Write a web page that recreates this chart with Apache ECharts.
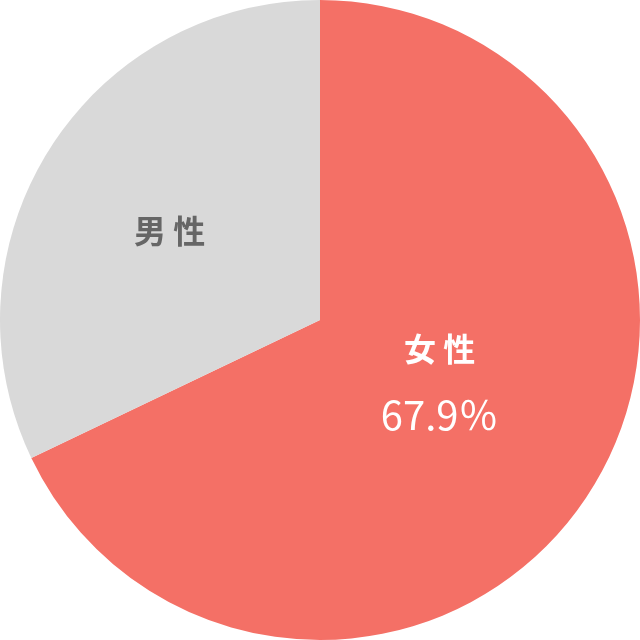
<!DOCTYPE html>
<html><head><meta charset="utf-8">
<script src="https://cdn.jsdelivr.net/npm/echarts@6/dist/echarts.min.js"></script>
<style>html,body{margin:0;padding:0;background:#fff}#c{width:640px;height:640px}</style>
</head><body><div id="c"></div>
<script>
const categories = ['女性', '男性'];
const values = [67.9, 32.1];
const colors = ['#F47066', '#D9D9D9'];

const chart = echarts.init(document.getElementById('c'), null, {renderer: 'canvas'});
const font = '"Noto Sans CJK JP","Noto Sans",sans-serif';
const baseData = categories.map((n, i) => ({name: n, value: values[i], itemStyle: {color: colors[i]}}));

function labelData(showIdx) {
  return categories.map((n, i) => ({
    name: n, value: values[i],
    label: {show: i === showIdx}
  }));
}

chart.setOption({
  animation: false,
  series: [
    {
      type: 'pie', radius: [0, 320], center: [320, 320], startAngle: 90, clockwise: true,
      silent: true, label: {show: false}, labelLine: {show: false},
      itemStyle: {borderWidth: 0},
      data: baseData
    },
    {
      type: 'pie', radius: [0, 263], center: [320, 320], startAngle: 95, clockwise: true,
      silent: true, itemStyle: {color: 'rgba(0,0,0,0)'}, labelLine: {show: false},
      label: {
        position: 'inside',
        formatter: p => '{a|' + p.name.split('').join(' ') + '}\n{b|' + p.value.toFixed(1) + '}{c|％}',
        rich: {
          a: {fontFamily: font, fontSize: 32, fontWeight: 'bold', color: '#fff', lineHeight: 66},
          b: {fontFamily: font, fontSize: 40, fontWeight: 'normal', color: '#fff', lineHeight: 66},
          c: {fontFamily: font, fontSize: 40, fontWeight: 'normal', color: '#fff', lineHeight: 66}
        }
      },
      data: labelData(0)
    },
    {
      type: 'pie', radius: [0, 344], center: [320, 320], startAngle: 91.5, clockwise: true,
      silent: true, itemStyle: {color: 'rgba(0,0,0,0)'}, labelLine: {show: false},
      label: {
        position: 'inside',
        formatter: p => p.name.split('').join(' '),
        fontFamily: font, fontSize: 32, fontWeight: 'bold', color: '#666'
      },
      data: labelData(1)
    }
  ]
});
</script></body></html>
